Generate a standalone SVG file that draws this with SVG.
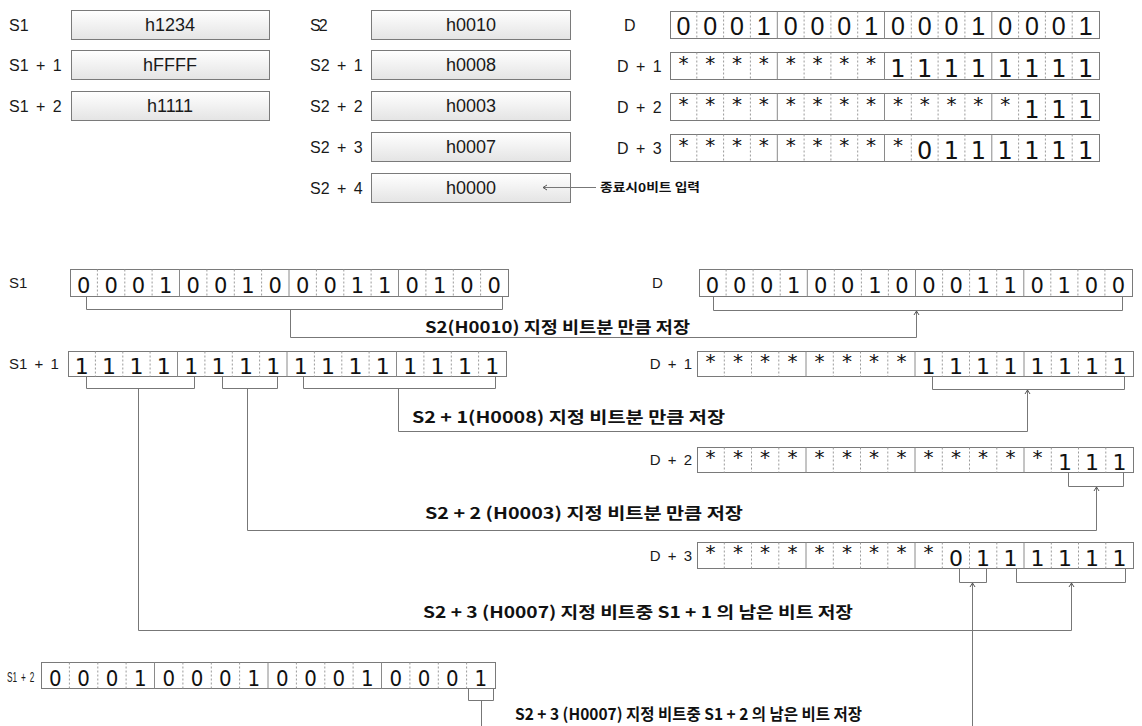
<svg xmlns="http://www.w3.org/2000/svg" width="1142" height="726" viewBox="0 0 1142 726">
<style>
.lbl{font-family:"Liberation Sans",Arial,sans-serif;font-size:16px;fill:#1a1a1a;word-spacing:3px}
.lbm{font-family:"Liberation Sans",Arial,sans-serif;font-size:15px;fill:#1a1a1a;word-spacing:3px}
.val{font-family:"Liberation Sans",Arial,sans-serif;font-size:18px;fill:#1a1a1a;text-anchor:middle}
.box{fill:url(#gb);stroke:#7a7a7a;stroke-width:1}
.reg{fill:#fff;stroke:#7a7a7a;stroke-width:1}
.sol{fill:none;stroke:#8a8a8a;stroke-width:1}
.dsh{fill:none;stroke:#9a9a9a;stroke-width:1;stroke-dasharray:2 2}
.dA{font-family:"Liberation Sans",Arial,sans-serif;font-size:25px;fill:#111;text-anchor:middle}
.dB{font-family:"DejaVu Sans",sans-serif;font-size:24px;fill:#111;text-anchor:middle}
.dM{font-family:"DejaVu Sans",sans-serif;font-size:22px;fill:#111;text-anchor:middle}
.dC{font-family:"DejaVu Sans",sans-serif;font-size:21px;fill:#111;text-anchor:middle}
.dN{font-family:"DejaVu Sans Condensed","DejaVu Sans",sans-serif;font-size:22px;fill:#111;text-anchor:middle;font-stretch:condensed}
.ast{font-family:"DejaVu Sans",sans-serif;font-size:20px;fill:#111;text-anchor:middle}
.kr{font-family:"Noto Sans CJK KR","Malgun Gothic",sans-serif;font-size:16px;font-weight:bold;fill:#111}
.krs{font-family:"Noto Sans CJK KR",sans-serif;font-size:12px;font-weight:bold;fill:#111}
.con{fill:none;stroke:#777;stroke-width:1}
</style>
<defs>
<linearGradient id="gb" x1="0" y1="0" x2="0" y2="1">
<stop offset="0" stop-color="#ffffff"/>
<stop offset="1" stop-color="#e4e4e4"/>
</linearGradient>
<marker id="ah" viewBox="-6 -4 8 8" refX="0" refY="0" markerWidth="8" markerHeight="8" markerUnits="userSpaceOnUse" orient="auto">
<path d="M-4,-2.5 L0,0 L-4,2.5" fill="none" stroke="#555" stroke-width="1"/>
</marker>
</defs>

<!-- top: S1 column -->
<g id="s1-top">
<text class="lbl" x="9" y="31">S1</text>
<rect class="box" x="71.5" y="10.5" width="198" height="29"/>
<text class="val" x="170" y="31">h1234</text>
</g>
<g id="s1p1-top">
<text class="lbl" x="9" y="71">S1 + 1</text>
<rect class="box" x="71.5" y="50.5" width="198" height="29"/>
<text class="val" x="170" y="71">hFFFF</text>
</g>
<g id="s1p2-top">
<text class="lbl" x="9" y="112">S1 + 2</text>
<rect class="box" x="71.5" y="91.5" width="198" height="29"/>
<text class="val" x="170" y="112">h1111</text>
</g>

<!-- top: S2 column -->
<g id="s2-top">
<text class="lbl" x="310" y="31" letter-spacing="-2">S2</text>
<rect class="box" x="371.5" y="10.5" width="199" height="29"/>
<text class="val" x="471" y="31">h0010</text>
</g>
<g id="s2p1-top">
<text class="lbl" x="310" y="71">S2 + 1</text>
<rect class="box" x="371.5" y="50.5" width="199" height="29"/>
<text class="val" x="471" y="71">h0008</text>
</g>
<g id="s2p2-top">
<text class="lbl" x="310" y="112">S2 + 2</text>
<rect class="box" x="371.5" y="91.5" width="199" height="29"/>
<text class="val" x="471" y="112">h0003</text>
</g>
<g id="s2p3-top">
<text class="lbl" x="310" y="153">S2 + 3</text>
<rect class="box" x="371.5" y="132.5" width="199" height="29"/>
<text class="val" x="471" y="153">h0007</text>
</g>
<g id="s2p4-top">
<text class="lbl" x="310" y="194">S2 + 4</text>
<rect class="box" x="371.5" y="173.5" width="199" height="29"/>
<text class="val" x="471" y="194">h0000</text>
</g>
<g id="end-note">
<text class="krs" x="600" y="192" textLength="100" lengthAdjust="spacingAndGlyphs">종료시0비트 입력</text>
</g>

<!-- top: D registers -->
<g id="d-top">
<text class="lbl" x="624" y="31">D</text>
<rect class="reg" x="670.5" y="11.5" width="429" height="27"/>
<path class="sol" d="M777.3,11.5v27M884.5,11.5v27M991.8,11.5v27"/>
<path class="dsh" d="M696.8,11.5v27M723.6,11.5v27M750.4,11.5v27M804.1,11.5v27M830.9,11.5v27M857.7,11.5v27M911.3,11.5v27M938.1,11.5v27M964.9,11.5v27M1018.6,11.5v27M1045.4,11.5v27M1072.2,11.5v27"/>
<text class="dA" x="683.4 710.2 737 763.8 790.7 817.5 844.3 871.1 897.9 924.7 951.5 978.3 1005.2 1032 1058.8 1085.6" y="35">0001000100010001</text>
</g>
<g id="dp1-top">
<text class="lbl" x="617" y="72" word-spacing="4">D + 1</text>
<rect class="reg" x="670.5" y="52.5" width="429" height="27"/>
<path class="sol" d="M777.3,52.5v27M884.5,52.5v27M991.8,52.5v27"/>
<path class="dsh" d="M696.8,52.5v27M723.6,52.5v27M750.4,52.5v27M804.1,52.5v27M830.9,52.5v27M857.7,52.5v27M911.3,52.5v27M938.1,52.5v27M964.9,52.5v27M1018.6,52.5v27M1045.4,52.5v27M1072.2,52.5v27"/>
<text class="ast" x="683.4 710.2 737 763.8 790.7 817.5 844.3 871.1" y="70">********</text>
<text class="dB" x="897.9 924.7 951.5 978.3 1005.2 1032 1058.8 1085.6" y="77">11111111</text>
</g>
<g id="dp2-top">
<text class="lbl" x="617" y="113" word-spacing="4">D + 2</text>
<rect class="reg" x="670.5" y="93.5" width="429" height="27"/>
<path class="sol" d="M777.3,93.5v27M884.5,93.5v27M991.8,93.5v27"/>
<path class="dsh" d="M696.8,93.5v27M723.6,93.5v27M750.4,93.5v27M804.1,93.5v27M830.9,93.5v27M857.7,93.5v27M911.3,93.5v27M938.1,93.5v27M964.9,93.5v27M1018.6,93.5v27M1045.4,93.5v27M1072.2,93.5v27"/>
<text class="ast" x="683.4 710.2 737 763.8 790.7 817.5 844.3 871.1 897.9 924.7 951.5 978.3 1005.2" y="111">*************</text>
<text class="dB" x="1032 1058.8 1085.6" y="118">111</text>
</g>
<g id="dp3-top">
<text class="lbl" x="617" y="154" word-spacing="4">D + 3</text>
<rect class="reg" x="670.5" y="134.5" width="429" height="27"/>
<path class="sol" d="M777.3,134.5v27M884.5,134.5v27M991.8,134.5v27"/>
<path class="dsh" d="M696.8,134.5v27M723.6,134.5v27M750.4,134.5v27M804.1,134.5v27M830.9,134.5v27M857.7,134.5v27M911.3,134.5v27M938.1,134.5v27M964.9,134.5v27M1018.6,134.5v27M1045.4,134.5v27M1072.2,134.5v27"/>
<text class="ast" x="683.4 710.2 737 763.8 790.7 817.5 844.3 871.1 897.9" y="152">*********</text>
<text class="dB" x="924.7 951.5 978.3 1005.2 1032 1058.8 1085.6" y="159">0111111</text>
</g>

<!-- middle: S1 -->
<g id="s1">
<text class="lbm" x="9" y="288">S1</text>
<rect class="reg" x="70.5" y="269.5" width="438" height="27"/>
<path class="sol" d="M179.5,269.5v27M289,269.5v27M398.5,269.5v27"/>
<path class="dsh" d="M97.4,269.5v27M124.8,269.5v27M152.1,269.5v27M206.9,269.5v27M234.3,269.5v27M261.6,269.5v27M316.4,269.5v27M343.8,269.5v27M371.1,269.5v27M425.9,269.5v27M453.3,269.5v27M480.6,269.5v27"/>
<text class="dC" x="83.7 111.1 138.4 165.8 193.2 220.6 247.9 275.3 302.7 330.1 357.4 384.8 412.2 439.6 466.9 494.3" y="293">0001001000110100</text>
</g>
<g id="d">
<text class="lbm" x="652" y="288">D</text>
<rect class="reg" x="699.5" y="269.5" width="433" height="27"/>
<path class="sol" d="M807.3,269.5v27M915.5,269.5v27M1023.8,269.5v27"/>
<path class="dsh" d="M726.1,269.5v27M753.1,269.5v27M780.2,269.5v27M834.3,269.5v27M861.4,269.5v27M888.4,269.5v27M942.6,269.5v27M969.6,269.5v27M996.7,269.5v27M1050.8,269.5v27M1077.9,269.5v27M1104.9,269.5v27"/>
<text class="dC" x="712.5 739.6 766.7 793.7 820.8 847.8 874.9 902 929 956.1 983.2 1010.2 1037.3 1064.3 1091.4 1118.5" y="293">0001001000110100</text>
</g>

<!-- middle: S1 + 1 -->
<g id="s1p1">
<text class="lbm" x="9" y="369">S1 + 1</text>
<rect class="reg" x="68.5" y="351.5" width="438" height="25"/>
<path class="sol" d="M177.5,351.5v25M287,351.5v25M396.5,351.5v25"/>
<path class="dsh" d="M95.4,351.5v25M122.8,351.5v25M150.1,351.5v25M204.9,351.5v25M232.3,351.5v25M259.6,351.5v25M314.4,351.5v25M341.8,351.5v25M369.1,351.5v25M423.9,351.5v25M451.3,351.5v25M478.6,351.5v25"/>
<text class="dM" x="81.7 109.1 136.4 163.8 191.2 218.6 245.9 273.3 300.7 328.1 355.4 382.8 410.2 437.6 464.9 492.3" y="374">1111111111111111</text>
</g>
<g id="dp1">
<text class="lbm" x="692" y="369" text-anchor="end">D + 1</text>
<rect class="reg" x="697.5" y="351.5" width="436" height="25"/>
<path class="sol" d="M806,351.5v25M915,351.5v25M1024,351.5v25"/>
<path class="dsh" d="M724.3,351.5v25M751.5,351.5v25M778.8,351.5v25M833.3,351.5v25M860.5,351.5v25M887.8,351.5v25M942.3,351.5v25M969.5,351.5v25M996.8,351.5v25M1051.3,351.5v25M1078.5,351.5v25M1105.8,351.5v25"/>
<text class="ast" x="710.6 737.9 765.1 792.4 819.6 846.9 874.1 901.4" y="368">********</text>
<text class="dM" x="928.6 955.9 983.1 1010.4 1037.6 1064.9 1092.1 1119.4" y="374">11111111</text>
</g>
<g id="dp2">
<text class="lbm" x="692" y="465" text-anchor="end">D + 2</text>
<rect class="reg" x="697.5" y="447.5" width="436" height="25"/>
<path class="sol" d="M806,447.5v25M915,447.5v25M1024,447.5v25"/>
<path class="dsh" d="M724.3,447.5v25M751.5,447.5v25M778.8,447.5v25M833.3,447.5v25M860.5,447.5v25M887.8,447.5v25M942.3,447.5v25M969.5,447.5v25M996.8,447.5v25M1051.3,447.5v25M1078.5,447.5v25M1105.8,447.5v25"/>
<text class="ast" x="710.6 737.9 765.1 792.4 819.6 846.9 874.1 901.4 928.6 955.9 983.1 1010.4 1037.6" y="464">*************</text>
<text class="dM" x="1064.9 1092.1 1119.4" y="470">111</text>
</g>
<g id="dp3">
<text class="lbm" x="692" y="561" text-anchor="end">D + 3</text>
<rect class="reg" x="697.5" y="542.5" width="436" height="26"/>
<path class="sol" d="M806,542.5v26M915,542.5v26M1024,542.5v26"/>
<path class="dsh" d="M724.3,542.5v26M751.5,542.5v26M778.8,542.5v26M833.3,542.5v26M860.5,542.5v26M887.8,542.5v26M942.3,542.5v26M969.5,542.5v26M996.8,542.5v26M1051.3,542.5v26M1078.5,542.5v26M1105.8,542.5v26"/>
<text class="ast" x="710.6 737.9 765.1 792.4 819.6 846.9 874.1 901.4 928.6" y="559">*********</text>
<text class="dM" x="955.9 983.1 1010.4 1037.6 1064.9 1092.1 1119.4" y="566">0111111</text>
</g>
<g id="s1p2">
<text class="lbm" transform="translate(7,682) scale(0.55,1)" x="0" y="0" font-size="19" word-spacing="0">S1 + 2</text>
<rect class="reg" x="41.5" y="662.5" width="454" height="26"/>
<path class="sol" d="M154.5,662.5v26M268,662.5v26M381.5,662.5v26"/>
<path class="dsh" d="M69.4,662.5v26M97.8,662.5v26M126.1,662.5v26M182.9,662.5v26M211.3,662.5v26M239.6,662.5v26M296.4,662.5v26M324.8,662.5v26M353.1,662.5v26M409.9,662.5v26M438.3,662.5v26M466.6,662.5v26"/>
<text class="dN" x="55.2 83.6 112 140.3 168.7 197.1 225.4 253.8 282.2 310.6 338.9 367.3 395.7 424 452.4 480.8" y="686">0001000100010001</text>
</g>

<!-- labels -->
<g id="labels">
<text class="kr" x="425" y="333" textLength="265" lengthAdjust="spacingAndGlyphs">S2(H0010) 지정 비트분 만큼 저장</text>
<text class="kr" x="412" y="423" textLength="313" lengthAdjust="spacingAndGlyphs">S2 + 1(H0008) 지정 비트분 만큼 저장</text>
<text class="kr" x="425" y="519" textLength="318" lengthAdjust="spacingAndGlyphs">S2 + 2 (H0003) 지정 비트분 만큼 저장</text>
<text class="kr" x="423" y="618" textLength="430" lengthAdjust="spacingAndGlyphs">S2 + 3 (H0007) 지정 비트중 S1 + 1 의 남은 비트 저장</text>
<text class="kr" x="515" y="720" font-size="18" textLength="347" lengthAdjust="spacingAndGlyphs">S2 + 3 (H0007) 지정 비트중 S1 + 2 의 남은 비트 저장</text>
</g>

<!-- connectors -->
<g id="connectors">
<path class="con" d="M596,187.5H543" marker-end="url(#ah)"/>
<path class="con" d="M86.5,296V309.5H502.5V296"/>
<path class="con" d="M713.5,296V310.5H1122.5V296"/>
<path class="con" d="M290.5,309.5V337.5H916.5V311" marker-end="url(#ah)"/>
<path class="con" d="M86.5,376V388.5H194.5V376"/>
<path class="con" d="M222.5,376V388.5H277.5V376"/>
<path class="con" d="M303.5,376V388.5H495.5V376"/>
<path class="con" d="M932.5,376V389.5H1124.5V376"/>
<path class="con" d="M398.5,388.5V431.5H1027.5V390" marker-end="url(#ah)"/>
<path class="con" d="M1068.5,472V486.5H1123.5V472"/>
<path class="con" d="M247.5,388.5V530.5H1096.5V487" marker-end="url(#ah)"/>
<path class="con" d="M959.5,568V582.5H986.5V568"/>
<path class="con" d="M1016.5,568V582.5H1125.5V568"/>
<path class="con" d="M138.5,388.5V630.5H1071.5V583" marker-end="url(#ah)"/>
<path class="con" d="M972.5,726V583" marker-end="url(#ah)"/>
<path class="con" d="M468.5,688V700.5H493.5V688"/>
<path class="con" d="M481.5,700.5V726"/>
</g>
</svg>
